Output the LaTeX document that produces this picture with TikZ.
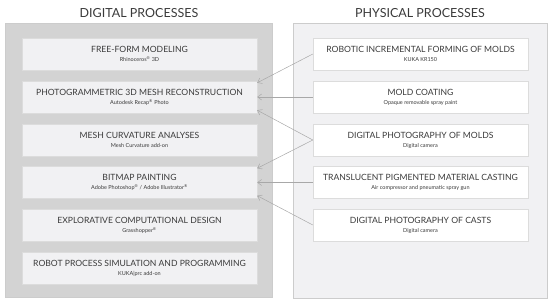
\documentclass[tikz,border=0pt]{standalone}
\usepackage{fontspec}
\setmainfont{Lato}
\usetikzlibrary{arrows.meta}
\definecolor{PanelDark}{HTML}{D3D3D3}
\definecolor{PanelEdge}{HTML}{CCCCCC}
\definecolor{PanelLight}{HTML}{F1F1F3}
\definecolor{BoxEdge}{HTML}{DCDCDC}
\definecolor{LineGray}{HTML}{A8A8A8}
\definecolor{TextDark}{HTML}{3A3A3A}
\newcommand{\tool}[1]{\\[-1pt]{\fontsize{5.5}{6}\selectfont #1}}
\newcommand{\reg}{\textsuperscript{®}}

\begin{document}
\begin{tikzpicture}[
        x=1pt, y=-1pt,
        text=TextDark,
        panel/.style={
            draw=PanelEdge,
            minimum width=267pt,
            minimum height=274pt,
            inner sep=0pt
        },
        digibox/.style={
            draw=BoxEdge,
            fill=PanelLight,
            minimum width=235pt,
            minimum height=32pt,
            align=center,
            inner sep=2pt,
            font=\fontsize{8.6}{10}\selectfont
        },
        physbox/.style={
            digibox,
            fill=white,
            minimum width=215pt
        },
        heading/.style={font=\fontsize{12.5}{14}\selectfont, inner sep=0pt},
        conn/.style={-{Straight Barb[length=4pt,width=6pt]}, line width=0.5pt, draw=LineGray}
    ]
        \useasboundingbox (0,0) rectangle (550,305);

        \node[panel, fill=PanelDark] (digital) at (138.5,160) {};
        \node[panel, fill=PanelLight, minimum width=254pt, minimum height=275pt] (physical) at (420,160.5) {};
        \node[heading] (digihead) at (139,13) {DIGITAL PROCESSES};
        \node[heading] (physhead) at (420,13) {PHYSICAL PROCESSES};

        % digital processes
        \node[digibox] (freeform) at (139.5,54) {FREE-FORM MODELING\tool{Rhinoceros\reg{} 3D}};
        \node[digibox] (photogram) at (139.5,97) {PHOTOGRAMMETRIC 3D MESH RECONSTRUCTION\tool{Autodesk Recap\reg{} Photo}};
        \node[digibox] (curvature) at (139.5,140) {MESH CURVATURE ANALYSES\tool{Mesh Curvature add-on}};
        \node[digibox] (bitmap) at (139.5,182.5) {BITMAP PAINTING\tool{Adobe Photoshop\reg{} / Adobe Illustrator\reg}};
        \node[digibox] (explore) at (139.5,225) {EXPLORATIVE COMPUTATIONAL DESIGN\tool{Grasshopper\reg}};
        \node[digibox] (robotsim) at (139.5,268) {ROBOT PROCESS SIMULATION AND PROGRAMMING\tool{KUKA|prc add-on}};

        % physical processes
        \node[physbox] (forming) at (420.5,54) {ROBOTIC INCREMENTAL FORMING OF MOLDS\tool{KUKA KR150}};
        \node[physbox] (coating) at (420.5,97) {MOLD COATING\tool{Opaque removable spray paint}};
        \node[physbox] (photomold) at (420.5,140) {DIGITAL PHOTOGRAPHY OF MOLDS\tool{Digital camera}};
        \node[physbox] (casting) at (420.5,182.5) {TRANSLUCENT PIGMENTED MATERIAL CASTING\tool{Air compressor and pneumatic spray gun}};
        \node[physbox] (photocast) at (420.5,225) {DIGITAL PHOTOGRAPHY OF CASTS\tool{Digital camera}};

        \draw[conn] (forming.west) -- ([yshift=-2pt]photogram.north east);
        \draw[conn] (coating.west) -- (photogram.east);
        \draw[conn] (photomold.west) -- ([yshift=3pt]photogram.south east);
        \draw[conn] (photomold.west) -- ([yshift=-2pt]bitmap.north east);
        \draw[conn] (casting.west) -- (bitmap.east);
        \draw[conn] (photocast.west) -- ([yshift=3pt]bitmap.south east);
    \end{tikzpicture}
\end{document}
